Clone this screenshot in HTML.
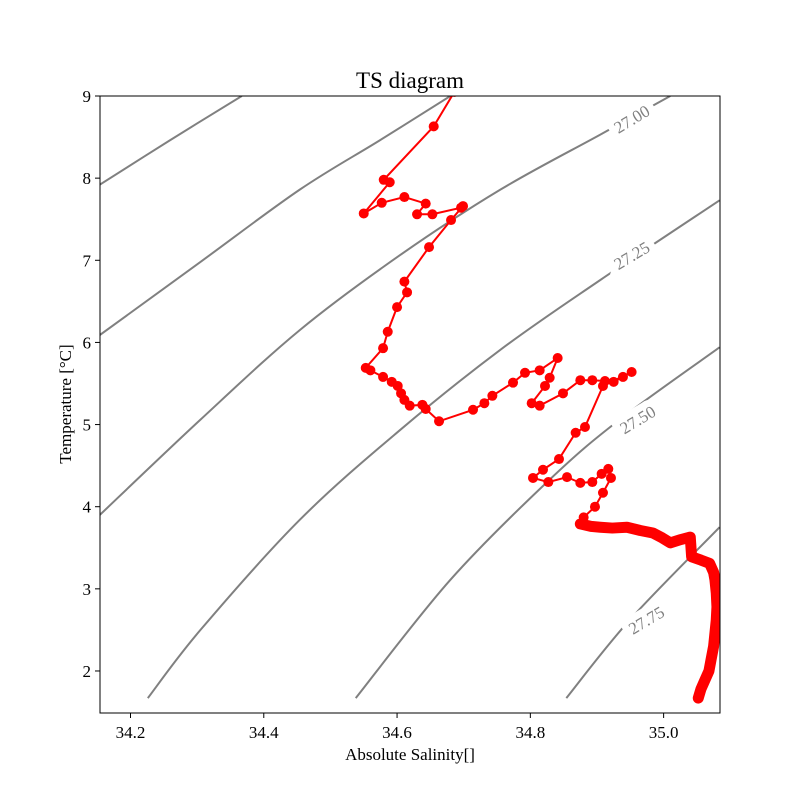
<!DOCTYPE html>
<html><head><meta charset="utf-8"><style>
body{margin:0;background:#fff}
svg text{font-family:"Liberation Serif",serif}
</style></head><body>
<svg id="c" width="800" height="800" xmlns="http://www.w3.org/2000/svg" style="position:absolute;left:0;top:0"></svg>
<script>
const salinity=[34.686,34.655,34.580,34.589,34.550,34.577,34.611,34.643,34.630,34.653,34.696,34.699,34.681,34.648,34.611,34.615,34.600,34.586,34.579,34.553,34.560,34.579,34.592,34.601,34.606,34.611,34.619,34.638,34.643,34.663,34.714,34.731,34.743,34.774,34.792,34.814,34.841,34.829,34.822,34.802,34.814,34.849,34.875,34.893,34.912,34.925,34.939,34.952,34.909,34.882,34.868,34.843,34.819,34.804,34.827,34.855,34.875,34.893,34.907,34.917,34.921,34.909,34.897,34.880,34.875,34.891,34.905,34.923,34.945,34.965,34.984,34.998,35.010,35.026,35.040,35.042,35.056,35.069,35.075,35.077,35.079,35.080,35.079,35.077,35.075,35.071,35.068,35.062,35.056,35.052];
const temperature=[9.05,8.63,7.98,7.95,7.57,7.70,7.77,7.69,7.56,7.56,7.64,7.66,7.49,7.16,6.74,6.61,6.43,6.13,5.93,5.69,5.66,5.58,5.52,5.47,5.38,5.30,5.23,5.24,5.19,5.04,5.18,5.26,5.35,5.51,5.63,5.66,5.81,5.57,5.47,5.26,5.23,5.38,5.54,5.54,5.53,5.52,5.58,5.64,5.47,4.97,4.90,4.58,4.45,4.35,4.30,4.36,4.29,4.30,4.40,4.46,4.35,4.17,4.00,3.87,3.79,3.76,3.75,3.74,3.75,3.71,3.68,3.62,3.56,3.60,3.63,3.39,3.35,3.31,3.20,3.11,2.95,2.78,2.62,2.46,2.30,2.13,2.00,1.89,1.78,1.67];
const contourS=[[34.154,34.259,34.367],[34.154,34.305,34.454,34.574,34.680],[34.154,34.305,34.454,34.604,34.755,34.905,35.010],[34.226,34.305,34.454,34.604,34.755,34.905,35.084],[34.538,34.680,34.829,34.934,35.084],[34.854,34.949,35.084]];
const contourT=[[7.92,8.46,9.0],[6.09,6.98,7.86,8.46,9.0],[3.90,5.06,6.15,7.06,7.86,8.53,9.0],[1.67,2.50,3.84,4.93,5.91,6.76,7.73],[1.67,3.11,4.33,5.06,5.94],[1.67,2.62,3.75]];
const contourLabel=["","","27.00","27.25","27.50","27.75"];
const labelPos=[[0,0],[0,0],[34.952,8.72],[34.952,7.06],[34.961,5.06],[34.974,2.62]];
const xTicks=[34.2,34.4,34.6,34.8,35.0];
const yTicks=[2,3,4,5,6,7,8,9];
const X0=100,X1=720,Y0=96,Y1=713;
const sx=s=>130.5+(s-34.2)*666.4;
const sy=t=>96+(9-t)*82.14;
const svg=document.getElementById('c');
const NS='http://www.w3.org/2000/svg';
function mk(tag,attrs,parent){const e=document.createElementNS(NS,tag);for(const k in attrs)e.setAttribute(k,attrs[k]);(parent||svg).appendChild(e);return e;}
function smooth(p){
  let d='M'+p[0][0]+','+p[0][1];
  for(let i=0;i<p.length-1;i++){
    const a=p[i-1]||p[i],b=p[i],c=p[i+1],e=p[i+2]||c;
    const c1=[b[0]+(c[0]-a[0])/6,b[1]+(c[1]-a[1])/6];
    const c2=[c[0]-(e[0]-b[0])/6,c[1]-(e[1]-b[1])/6];
    d+=' C'+c1[0]+','+c1[1]+' '+c2[0]+','+c2[1]+' '+c[0]+','+c[1];
  }
  return d;
}
const defs=mk('defs',{});
const cp=mk('clipPath',{id:'clip'},defs);
mk('rect',{x:X0,y:Y0,width:X1-X0,height:Y1-Y0},cp);
const g=mk('g',{'clip-path':'url(#clip)'});


contourS.forEach((arr,i)=>{
  const pts=arr.map((s,j)=>[sx(s),sy(contourT[i][j])]);
  const pl=mk('path',{d:smooth(pts),fill:'none',stroke:'#808080','stroke-width':2},g);
  
  
  if(contourLabel[i]){
    const x=sx(labelPos[i][0]),y=sy(labelPos[i][1]);
    const t=mk('text',{x:x,y:y+6,'text-anchor':'middle','font-size':17,fill:'#808080',stroke:'#fff','stroke-width':14,'paint-order':'stroke',transform:`rotate(-31 ${x} ${y})`},g);
    t.textContent=contourLabel[i];
    
    
  }
});
const line=mk('polyline',{points:salinity.map((s,i)=>sx(s)+','+sy(temperature[i])).join(' '),fill:'none',stroke:'#ff0000','stroke-width':2},g);


salinity.forEach((s,i)=>{
  const c=mk('circle',{cx:sx(s),cy:sy(temperature[i]),r:5,fill:'#ff0000'},g);
  
  
});
const dense=mk('polyline',{points:salinity.slice(64).map((s,i)=>sx(s)+','+sy(temperature[i+64])).join(' '),fill:'none',stroke:'#ff0000','stroke-width':11,'stroke-linejoin':'round','stroke-linecap':'round'},g);


const fr=mk('rect',{x:X0,y:Y0,width:X1-X0,height:Y1-Y0,fill:'none',stroke:'#000','stroke-width':1});


xTicks.forEach(v=>{
  const x=sx(v);
  const l=mk('line',{x1:x,x2:x,y1:Y1,y2:Y1+5,stroke:'#000'});
  
  
  const t=mk('text',{x:x,y:Y1+25,'text-anchor':'middle','font-size':17});
  t.textContent=v.toFixed(1);
  
  
});
yTicks.forEach(v=>{
  const y=sy(v);
  const l=mk('line',{x1:X0-5,x2:X0,y1:y,y2:y,stroke:'#000'});
  
  
  const t=mk('text',{x:X0-9,y:y+6,'text-anchor':'end','font-size':17});
  t.textContent=v;
  
  
});
const title=mk('text',{x:410,y:88,'text-anchor':'middle','font-size':23});
title.textContent='TS diagram';


const xt=mk('text',{x:410,y:760,'text-anchor':'middle','font-size':17});
xt.textContent='Absolute Salinity[]';


const yt=mk('text',{x:71,y:404,'text-anchor':'middle','font-size':17,transform:'rotate(-90 71 404)'});
yt.textContent='Temperature [°C]';


</script>
</body></html>
